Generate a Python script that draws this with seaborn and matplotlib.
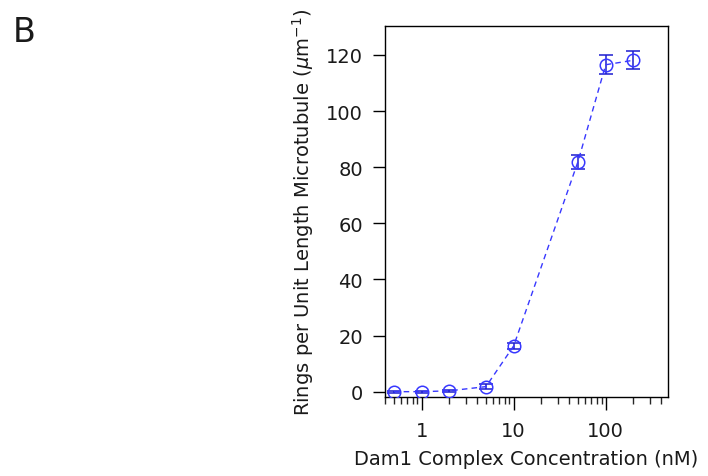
import numpy as np
import pandas as pd
import matplotlib
matplotlib.use("Agg")
import matplotlib.pyplot as plt
import seaborn as sns
from matplotlib.ticker import LogLocator, NullFormatter, FixedLocator

concentration = [0.5, 1, 2, 5, 10, 50, 100, 200]
rings = [0.0, 0.0, 0.3, 1.8, 16.3, 82.0, 116.5, 118.1]
rings_err = [0.3, 0.3, 0.3, 1.0, 1.0, 2.5, 3.3, 3.2]
x_ticks = [1, 10, 100]
x_tick_labels = ["1", "10", "100"]
y_ticks = [0, 20, 40, 60, 80, 100, 120]

sns.set_theme(style="ticks")
plt.rcParams['font.family'] = ['DejaVu Sans']
plt.rcParams['mathtext.fontset'] = 'dejavusans'
plt.rcParams['text.color'] = '#1a1a1a'
plt.rcParams['axes.labelcolor'] = '#1a1a1a'

df = pd.DataFrame({"conc": concentration, "rings": rings, "err": rings_err})

fig = plt.figure(figsize=(7.08, 4.77), dpi=100)
ax = fig.add_axes([385/708, 1-398/477, (668-385)/708, (398-27)/477])

blue = "#3838ff"
ax.errorbar(df["conc"], df["rings"], yerr=df["err"], fmt="none", ecolor="#1c1cd0",
            elinewidth=1.1, capsize=4.8, capthick=1.1, zorder=2)
sns.lineplot(data=df, x="conc", y="rings", ax=ax, color=blue, linestyle=(0, (4, 3)),
             linewidth=1.0, marker="o", markersize=9, markerfacecolor="none",
             markeredgecolor=blue, markeredgewidth=1.1, zorder=3)

ax.set_xscale("log")
ax.set_xlim(0.4, 475)
ax.set_ylim(-1.9, 130.3)
ax.xaxis.set_major_locator(FixedLocator(x_ticks))
ax.set_xticklabels(x_tick_labels)
ax.xaxis.set_minor_locator(LogLocator(base=10, subs=np.arange(2, 10)))
ax.xaxis.set_minor_formatter(NullFormatter())
ax.set_yticks(y_ticks)

for s in ax.spines.values():
    s.set_linewidth(1.0)
    s.set_color("black")
ax.tick_params(axis="both", which="major", direction="out", length=9, width=1.0,
               labelsize=14, colors="black", labelcolor="#1a1a1a", pad=7)
ax.tick_params(axis="x", which="minor", direction="out", length=5, width=1.0)
ax.tick_params(axis="x", which="major", pad=8)

ax.set_xlabel("Dam1 Complex Concentration (nM)", fontsize=14, labelpad=7)
ax.set_ylabel(r"Rings per Unit Length Microtubule ($\mu$m$^{-1}$)", fontsize=14, labelpad=7)

fig.text(13/708, 1-42/477, "B", fontsize=24, ha="left", va="baseline")

fig.savefig("out.png", dpi=100)
